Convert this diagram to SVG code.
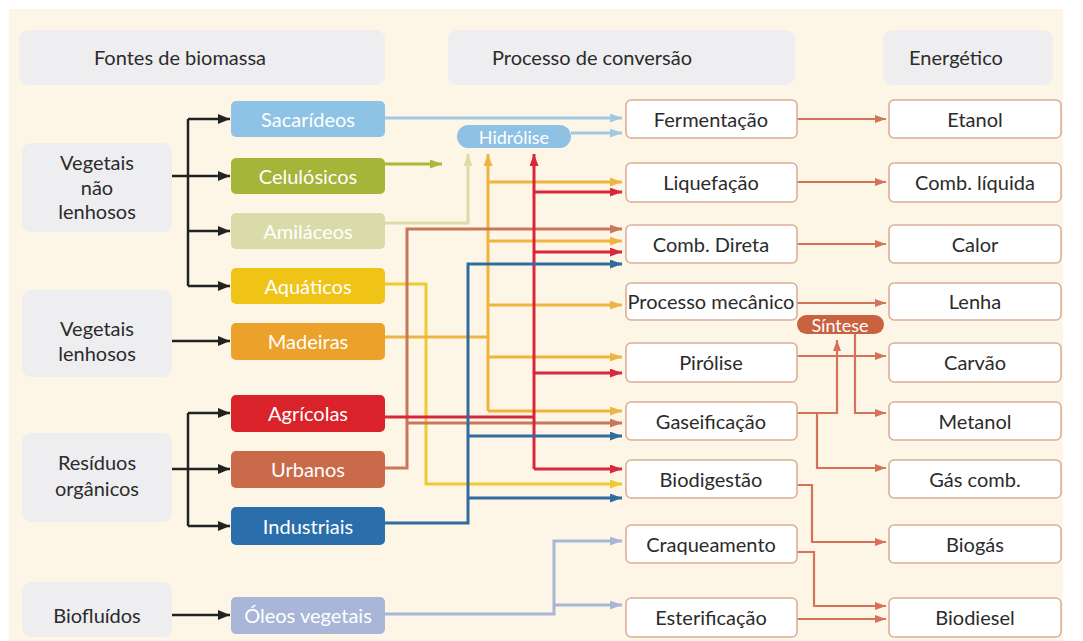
<svg xmlns="http://www.w3.org/2000/svg" width="1083" height="641" viewBox="0 0 1083 641">
<style>
text{font-family:Lato,"Liberation Sans",sans-serif;font-size:20px;fill:#2b2b2b;text-anchor:middle;dominant-baseline:central}
.hdr{fill:#eeeef0}
.grp{fill:#eeeef0}
.src text{fill:#ffffff}
.pbox{fill:#ffffff;stroke:#dcae98;stroke-width:1.6}
.pill text{fill:#ffffff;font-size:18px}
.c{fill:none;stroke-width:3}
.k{fill:none;stroke:#222;stroke-width:2.5}
.e{fill:none;stroke:#d4735a;stroke-width:2.2}
</style>
<defs>
<marker id="mk" markerUnits="userSpaceOnUse" markerWidth="12" markerHeight="10" refX="12" refY="5" orient="auto"><path d="M0,0 L12,5 L0,10 z" fill="#222"/></marker>
<marker id="me" markerUnits="userSpaceOnUse" markerWidth="11" markerHeight="8" refX="11" refY="4" orient="auto"><path d="M0,0 L11,4 L0,8 z" fill="#d4735a"/></marker>
<marker id="m-sac" markerUnits="userSpaceOnUse" markerWidth="12" markerHeight="9" refX="12" refY="4.5" orient="auto"><path d="M0,0 L12,4.5 L0,9 z" fill="#9fc8e4"/></marker>
<marker id="m-cel" markerUnits="userSpaceOnUse" markerWidth="12" markerHeight="9" refX="12" refY="4.5" orient="auto"><path d="M0,0 L12,4.5 L0,9 z" fill="#a7b83a"/></marker>
<marker id="m-ami" markerUnits="userSpaceOnUse" markerWidth="12" markerHeight="9" refX="12" refY="4.5" orient="auto"><path d="M0,0 L12,4.5 L0,9 z" fill="#dcdcaa"/></marker>
<marker id="m-mad" markerUnits="userSpaceOnUse" markerWidth="12" markerHeight="9" refX="12" refY="4.5" orient="auto"><path d="M0,0 L12,4.5 L0,9 z" fill="#efb440"/></marker>
<marker id="m-aqu" markerUnits="userSpaceOnUse" markerWidth="12" markerHeight="9" refX="12" refY="4.5" orient="auto"><path d="M0,0 L12,4.5 L0,9 z" fill="#efc92f"/></marker>
<marker id="m-agr" markerUnits="userSpaceOnUse" markerWidth="12" markerHeight="9" refX="12" refY="4.5" orient="auto"><path d="M0,0 L12,4.5 L0,9 z" fill="#d8263a"/></marker>
<marker id="m-urb" markerUnits="userSpaceOnUse" markerWidth="12" markerHeight="9" refX="12" refY="4.5" orient="auto"><path d="M0,0 L12,4.5 L0,9 z" fill="#c9765a"/></marker>
<marker id="m-ind" markerUnits="userSpaceOnUse" markerWidth="12" markerHeight="9" refX="12" refY="4.5" orient="auto"><path d="M0,0 L12,4.5 L0,9 z" fill="#2e6d9e"/></marker>
<marker id="m-ole" markerUnits="userSpaceOnUse" markerWidth="12" markerHeight="9" refX="12" refY="4.5" orient="auto"><path d="M0,0 L12,4.5 L0,9 z" fill="#a9b5d6"/></marker>
</defs>

<rect x="9" y="9" width="1054" height="632" fill="#fdf6e7"/>

<g id="headers">
<g id="h-fontes"><rect class="hdr" x="19" y="30" width="366" height="55" rx="9"/><text x="180" y="57">Fontes de biomassa</text></g>
<g id="h-processo"><rect class="hdr" x="448" y="30" width="347" height="55" rx="9"/><text x="592" y="57">Processo de conversão</text></g>
<g id="h-energetico"><rect class="hdr" x="883" y="30" width="170" height="55" rx="9"/><text x="956" y="57">Energético</text></g>
</g>

<g id="connectors">
<!-- black -->
<path class="k" d="M188,119 V286"/>
<path class="k" d="M188,119 H230" marker-end="url(#mk)"/>
<path class="k" d="M172,176 H230" marker-end="url(#mk)"/>
<path class="k" d="M188,231 H230" marker-end="url(#mk)"/>
<path class="k" d="M188,286 H230" marker-end="url(#mk)"/>
<path class="k" d="M172,341 H230" marker-end="url(#mk)"/>
<path class="k" d="M188,413 V526"/>
<path class="k" d="M188,413 H230" marker-end="url(#mk)"/>
<path class="k" d="M172,469 H230" marker-end="url(#mk)"/>
<path class="k" d="M188,526 H230" marker-end="url(#mk)"/>
<path class="k" d="M172,615 H230" marker-end="url(#mk)"/>
<!-- sacarideos -->
<path class="c" stroke="#9fc8e4" d="M385,118 H622" marker-end="url(#m-sac)"/>
<path class="c" stroke="#9fc8e4" d="M571,133 H622" marker-end="url(#m-sac)"/>
<!-- celulosicos -->
<path class="c" stroke="#a7b83a" d="M385,164 H442" marker-end="url(#m-cel)"/>
<!-- amilaceos -->
<path class="c" stroke="#dcdcaa" d="M385,223 H468 V154" marker-end="url(#m-ami)"/>
<!-- aquaticos -->
<path class="c" stroke="#efc92f" d="M385,284 H426 V484 H622" marker-end="url(#m-aqu)"/>
<!-- madeiras -->
<path class="c" stroke="#efb440" d="M385,337 H488"/>
<path class="c" stroke="#efb440" d="M488,411 V154" marker-end="url(#m-mad)"/>
<path class="c" stroke="#efb440" d="M488,182 H622" marker-end="url(#m-mad)"/>
<path class="c" stroke="#efb440" d="M488,241 H622" marker-end="url(#m-mad)"/>
<path class="c" stroke="#efb440" d="M488,305 H622" marker-end="url(#m-mad)"/>
<path class="c" stroke="#efb440" d="M488,357 H622" marker-end="url(#m-mad)"/>
<path class="c" stroke="#efb440" d="M488,411 H622" marker-end="url(#m-mad)"/>
<!-- urbanos -->
<path class="c" stroke="#c9765a" d="M385,468 H407 V229 H622" marker-end="url(#m-urb)"/>
<path class="c" stroke="#c9765a" d="M407,423 H622" marker-end="url(#m-urb)"/>
<!-- agricolas -->
<path class="c" stroke="#d8263a" d="M385,417 H534"/>
<path class="c" stroke="#d8263a" d="M534,469 V154" marker-end="url(#m-agr)"/>
<path class="c" stroke="#d8263a" d="M534,192 H622" marker-end="url(#m-agr)"/>
<path class="c" stroke="#d8263a" d="M534,252 H622" marker-end="url(#m-agr)"/>
<path class="c" stroke="#d8263a" d="M534,373 H622" marker-end="url(#m-agr)"/>
<path class="c" stroke="#d8263a" d="M534,469 H622" marker-end="url(#m-agr)"/>
<!-- industriais -->
<path class="c" stroke="#2e6d9e" d="M385,523 H468 V264 H622" marker-end="url(#m-ind)"/>
<path class="c" stroke="#2e6d9e" d="M468,436 H622" marker-end="url(#m-ind)"/>
<path class="c" stroke="#2e6d9e" d="M468,498 H622" marker-end="url(#m-ind)"/>
<!-- oleos -->
<path class="c" stroke="#a9b5d6" d="M385,614 H554 V541 H622" marker-end="url(#m-ole)"/>
<path class="c" stroke="#a9b5d6" d="M554,605 H622" marker-end="url(#m-ole)"/>
<!-- process to energy -->
<path class="e" d="M797,119 H886" marker-end="url(#me)"/>
<path class="e" d="M797,182 H886" marker-end="url(#me)"/>
<path class="e" d="M797,244 H886" marker-end="url(#me)"/>
<path class="e" d="M797,303 H886" marker-end="url(#me)"/>
<path class="e" d="M797,356 H886" marker-end="url(#me)"/>
<path class="e" d="M797,413 H837 V340" marker-end="url(#me)"/>
<path class="e" d="M817,413 V468 H886" marker-end="url(#me)"/>
<path class="e" d="M855,333 V413 H886" marker-end="url(#me)"/>
<path class="e" d="M797,485 H812 V542 H886" marker-end="url(#me)"/>
<path class="e" d="M797,552 H814 V606 H886" marker-end="url(#me)"/>
<path class="e" d="M797,619 H886" marker-end="url(#me)"/>
</g>

<g id="groups">
<g id="g-vnl"><rect class="grp" x="22" y="143" width="150" height="89" rx="9"/><text x="97" y="162">Vegetais</text><text x="97" y="187">não</text><text x="97" y="211">lenhosos</text></g>
<g id="g-vl"><rect class="grp" x="22" y="290" width="150" height="87" rx="9"/><text x="97" y="328">Vegetais</text><text x="97" y="353">lenhosos</text></g>
<g id="g-res"><rect class="grp" x="22" y="433" width="150" height="89" rx="9"/><text x="97" y="462">Resíduos</text><text x="97" y="488">orgânicos</text></g>
<g id="g-bio"><rect class="grp" x="22" y="582" width="150" height="55" rx="9"/><text x="97" y="615">Biofluídos</text></g>
</g>

<g id="sources" class="src">
<g id="s-sac"><rect x="231" y="101" width="154" height="36" rx="5" fill="#8ec3e6"/><text x="308" y="119">Sacarídeos</text></g>
<g id="s-cel"><rect x="231" y="158" width="154" height="36" rx="5" fill="#a4b53a"/><text x="308" y="176">Celulósicos</text></g>
<g id="s-ami"><rect x="231" y="213" width="154" height="36" rx="5" fill="#d9dca8"/><text x="308" y="231">Amiláceos</text></g>
<g id="s-aqu"><rect x="231" y="268" width="154" height="36" rx="5" fill="#efc417"/><text x="308" y="286">Aquáticos</text></g>
<g id="s-mad"><rect x="231" y="323" width="154" height="37" rx="5" fill="#eca12a"/><text x="308" y="341">Madeiras</text></g>
<g id="s-agr"><rect x="231" y="395" width="154" height="37" rx="5" fill="#d9222a"/><text x="308" y="413">Agrícolas</text></g>
<g id="s-urb"><rect x="231" y="451" width="154" height="37" rx="5" fill="#c96a4a"/><text x="308" y="469">Urbanos</text></g>
<g id="s-ind"><rect x="231" y="507" width="154" height="38" rx="5" fill="#2a6fac"/><text x="308" y="526">Industriais</text></g>
<g id="s-ole"><rect x="231" y="597" width="154" height="37" rx="5" fill="#a9b6d8"/><text x="308" y="615">Óleos vegetais</text></g>
</g>

<g id="processes">
<g id="p-fer"><rect class="pbox" x="626" y="100" width="171" height="38" rx="5"/><text x="711" y="119">Fermentação</text></g>
<g id="p-liq"><rect class="pbox" x="626" y="163" width="171" height="39" rx="5"/><text x="711" y="182">Liquefação</text></g>
<g id="p-cd"><rect class="pbox" x="626" y="225" width="171" height="38" rx="5"/><text x="711" y="244">Comb. Direta</text></g>
<g id="p-pm"><rect class="pbox" x="626" y="283" width="171" height="37" rx="5"/><text x="711" y="301">Processo mecânico</text></g>
<g id="p-pir"><rect class="pbox" x="626" y="343" width="171" height="39" rx="5"/><text x="711" y="362">Pirólise</text></g>
<g id="p-gas"><rect class="pbox" x="626" y="402" width="171" height="38" rx="5"/><text x="711" y="421">Gaseificação</text></g>
<g id="p-bdg"><rect class="pbox" x="626" y="460" width="171" height="38" rx="5"/><text x="711" y="479">Biodigestão</text></g>
<g id="p-cra"><rect class="pbox" x="626" y="525" width="171" height="38" rx="5"/><text x="711" y="544">Craqueamento</text></g>
<g id="p-est"><rect class="pbox" x="626" y="598" width="171" height="39" rx="5"/><text x="711" y="617">Esterificação</text></g>
</g>

<g id="energies">
<g id="e-eta"><rect class="pbox" x="889" y="100" width="172" height="38" rx="5"/><text x="975" y="119">Etanol</text></g>
<g id="e-cl"><rect class="pbox" x="889" y="163" width="172" height="39" rx="5"/><text x="975" y="182">Comb. líquida</text></g>
<g id="e-cal"><rect class="pbox" x="889" y="225" width="172" height="38" rx="5"/><text x="975" y="244">Calor</text></g>
<g id="e-len"><rect class="pbox" x="889" y="283" width="172" height="37" rx="5"/><text x="975" y="301">Lenha</text></g>
<g id="e-car"><rect class="pbox" x="889" y="343" width="172" height="39" rx="5"/><text x="975" y="362">Carvão</text></g>
<g id="e-met"><rect class="pbox" x="889" y="402" width="172" height="38" rx="5"/><text x="975" y="421">Metanol</text></g>
<g id="e-gc"><rect class="pbox" x="889" y="460" width="172" height="38" rx="5"/><text x="975" y="479">Gás comb.</text></g>
<g id="e-bgs"><rect class="pbox" x="889" y="525" width="172" height="38" rx="5"/><text x="975" y="544">Biogás</text></g>
<g id="e-bdi"><rect class="pbox" x="889" y="598" width="172" height="39" rx="5"/><text x="975" y="617">Biodiesel</text></g>
</g>

<g id="hidrolise" class="pill"><rect x="457" y="125" width="114" height="23" rx="11.5" fill="#8fc1e5"/><text x="514" y="137">Hidrólise</text></g>
<g id="sintese" class="pill"><rect x="797" y="315" width="87" height="19" rx="9.5" fill="#c9623f"/><text x="840" y="325">Síntese</text></g>
</svg>
